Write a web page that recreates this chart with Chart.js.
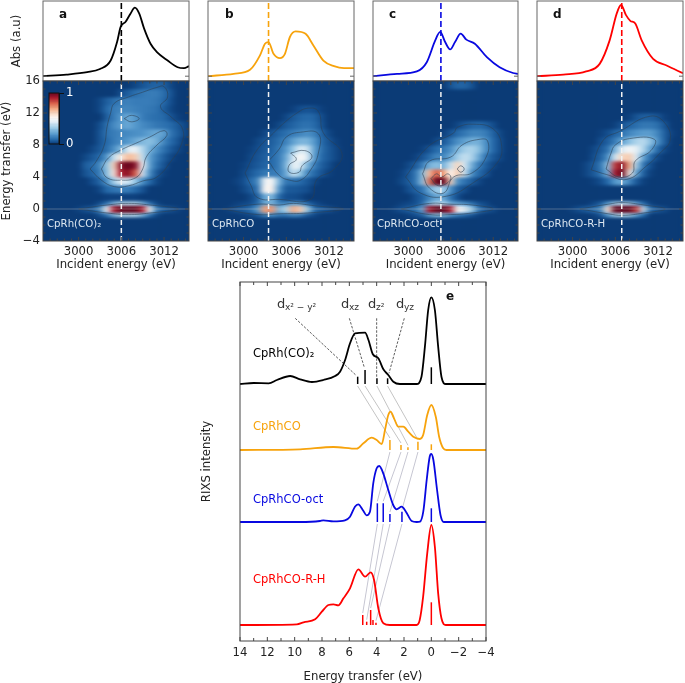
<!DOCTYPE html>
<html>
<head>
<meta charset="utf-8">
<title>RIXS maps</title>
<script src="https://cdn.jsdelivr.net/npm/chart.js@4"></script>
<style>
html, body { margin: 0; padding: 0; background: #fff; }
#page { position: relative; width: 685px; height: 683px; overflow: hidden; }
#page canvas { position: absolute; left: 0; top: 0; }
.heat { position: absolute; overflow: hidden; background: #0b3b76; }
.heat canvas { filter: url(#soft); }
</style>
</head>
<body>
<svg width="0" height="0" style="position:absolute"><filter id="soft" color-interpolation-filters="sRGB"><feGaussianBlur stdDeviation="3 1.7"/></filter></svg>
<div id="page"></div>
<script>
// ---------- data ----------
const panelNames = ['a', 'b', 'c', 'd'];
const sampleNames = ['CpRh(CO)₂', 'CpRhCO', 'CpRhCO-oct', 'CpRhCO-R-H'];
const sampleColors = ['#000000', '#f7a30c', '#0808e0', '#ff0000'];
const cutEnergies = [3006, 3003.5, 3004.6, 3006.9];

const absEnergyA = [2995, 2998.3, 3001.2, 3003, 3004.5, 3005.4, 3005.9, 3006.6, 3007.3, 3007.9, 3008.5, 3009.2, 3010.1, 3011, 3012.5, 3013.9, 3014.8, 3015.5];
const absValueA = [.06, .08, .11, .15, .256, .487, .676, .74, .845, .916, .845, .655, .466, .361, .256, .172, .16, .185];
const absEnergyB = [2995, 2998.6, 3000.9, 3002.3, 3003, 3003.5, 3004.2, 3005.1, 3005.8, 3006.5, 3007.3, 3008.7, 3009.8, 3011.2, 3012.7, 3014.1, 3015.5];
const absValueB = [.06, .09, .14, .32, .466, .487, .34, .286, .34, .55, .62, .59, .445, .256, .185, .16, .16];
const absEnergyC = [2995, 2998.4, 3001.2, 3002.6, 3003.8, 3004.5, 3005.2, 3005.9, 3006.6, 3007.4, 3008.2, 3009.4, 3011.1, 3012.9, 3014.8, 3015.5];
const absValueC = [.06, .09, .12, .235, .508, .613, .487, .395, .487, .592, .517, .466, .298, .172, .10, .088];
const absEnergyD = [2995, 2998.7, 3001.9, 3003.8, 3005.2, 3006.2, 3006.8, 3007.5, 3008.1, 3008.8, 3009.7, 3011.3, 3013.2, 3015.5];
const absValueD = [.06, .08, .12, .214, .508, .845, .95, .823, .752, .718, .508, .277, .193, .097];

// map cells: columns are 2995..3015 eV, rows run top to bottom between these edges
const columnEnergies = [2995, 2996, 2997, 2998, 2999, 3000, 3001, 3002, 3003, 3004, 3005, 3006, 3007, 3008, 3009, 3010, 3011, 3012, 3013, 3014, 3015];
const rowEdges = [16, 15, 14, 13, 12, 11, 10, 9, 8, 7, 6, 5, 4, 3, 2, 1, .45, -.45, -1, -2, -3, -4];

const mapA = [
  [0,0,0,0,0,0,0,0,0,0,0,0,0,2,4,6,7,6,2,0,0],
  [0,0,0,0,0,0,0,0,0,0,0,3,6,9,11,12,12,9,4,0,0],
  [0,0,0,0,0,0,0,0,2,6,9,12,13,12,12,12,11,8,3,0,0],
  [0,0,0,0,0,0,0,0,2,8,12,14,14,13,12,11,10,6,2,0,0],
  [0,0,0,0,0,0,0,0,0,6,12,18,22,18,12,10,9,8,4,1,0],
  [0,0,0,0,0,0,0,0,3,9,15,19,22,18,15,13,11,10,8,5,2],
  [0,0,0,0,0,0,0,0,4,10,12,14,15,16,17,20,22,20,10,6,2],
  [0,0,0,0,0,0,0,0,4,8,12,15,18,22,26,28,24,14,8,4,0],
  [0,0,0,0,0,0,0,2,5,9,16,26,42,46,35,24,16,10,5,2,0],
  [0,0,0,0,0,0,2,5,8,18,38,55,65,62,38,20,12,6,2,0,0],
  [0,0,0,0,0,0,6,8,14,30,60,95,100,95,50,20,9,4,0,0,0],
  [0,0,0,0,0,0,4,7,12,28,55,90,95,80,40,16,5,1,0,0,0],
  [0,0,0,0,0,0,0,3,7,16,32,42,40,30,16,8,2,0,0,0,0],
  [0,0,0,0,0,0,0,0,2,8,10,12,12,8,4,0,0,0,0,0,0],
  [0,0,0,0,0,0,0,0,0,1,1,1,1,1,0,0,0,0,0,0,0],
  [0,0,0,0,0,0,0,0,3,10,25,35,35,35,25,10,2,0,0,0,0],
  [0,0,0,0,0,1,3,5,14,45,90,100,100,100,90,45,12,5,3,1,0],
  [0,0,0,0,0,0,0,0,3,10,25,35,35,35,25,10,2,0,0,0,0],
  [0,0,0,0,0,0,0,0,0,0,0,0,0,0,0,0,0,0,0,0,0],
  [0,0,0,0,0,0,0,0,0,0,0,0,0,0,0,0,0,0,0,0,0],
  [0,0,0,0,0,0,0,0,0,0,0,0,0,0,0,0,0,0,0,0,0]
];
const mapB = [
  [0,0,0,0,0,0,0,0,0,0,0,0,0,0,0,0,0,0,0,0,0],
  [0,0,0,0,0,0,0,0,0,0,0,0,0,0,0,0,0,0,0,0,0],
  [0,0,0,0,0,0,0,0,0,0,0,0,0,0,0,0,0,0,0,0,0],
  [0,0,0,0,0,0,0,0,0,0,0,0,1,3,4,3,1,0,0,0,0],
  [0,0,0,0,0,0,0,0,0,0,0,2,5,7,8,7,3,0,0,0,0],
  [0,0,0,0,0,0,0,0,0,0,2,5,7,9,10,8,4,0,0,0,0],
  [0,0,0,0,0,0,0,0,2,4,7,9,12,14,16,13,7,2,0,0,0],
  [0,0,0,0,0,0,0,2,4,6,9,13,20,25,25,18,8,4,1,0,0],
  [0,0,0,0,0,0,1,3,5,7,11,18,30,42,38,20,9,5,2,0,0],
  [0,0,0,0,0,0,2,4,6,8,12,22,40,50,42,18,8,5,2,0,0],
  [0,0,0,0,0,1,3,5,7,8,12,25,45,42,25,12,6,3,0,0,0],
  [0,0,0,0,0,2,5,8,11,12,12,22,38,30,14,8,4,1,0,0,0],
  [0,0,0,0,1,3,8,14,46,50,25,10,10,8,5,2,0,0,0,0,0],
  [0,0,0,0,0,2,5,10,50,52,18,5,5,4,3,0,0,0,0,0,0],
  [0,0,0,0,0,0,2,6,22,26,8,3,3,2,0,0,0,0,0,0,0],
  [0,0,0,0,1,2,3,8,22,24,14,14,20,18,8,3,1,0,0,0,0],
  [0,0,0,1,3,5,8,18,70,72,24,34,68,62,30,8,5,3,1,0,0],
  [0,0,0,0,0,1,2,5,14,16,10,10,14,12,5,2,0,0,0,0,0],
  [0,0,0,0,0,0,0,0,0,0,0,0,0,0,0,0,0,0,0,0,0],
  [0,0,0,0,0,0,0,0,0,0,0,0,0,0,0,0,0,0,0,0,0],
  [0,0,0,0,0,0,0,0,0,0,0,0,0,0,0,0,0,0,0,0,0]
];
const mapC = [
  [0,0,0,0,0,0,0,0,0,0,0,4,7,7,4,0,0,0,0,0,0],
  [0,0,0,0,0,0,0,0,0,0,0,0,0,0,0,0,0,0,0,0,0],
  [0,0,0,0,0,0,0,0,0,0,0,0,0,0,0,0,0,0,0,0,0],
  [0,0,0,0,0,0,0,0,0,0,0,0,0,0,0,0,0,0,0,0,0],
  [0,0,0,0,0,0,0,0,0,0,0,0,0,0,0,0,0,0,0,0,0],
  [0,0,0,0,0,0,0,0,0,0,0,0,2,5,7,8,6,3,0,0,0],
  [0,0,0,0,0,0,0,0,0,0,1,4,8,11,14,14,12,7,2,0,0],
  [0,0,0,0,0,0,0,0,0,2,5,10,16,20,24,24,16,8,3,0,0],
  [0,0,0,0,0,0,0,1,4,8,11,16,25,32,34,28,16,8,3,0,0],
  [0,0,0,0,0,0,1,4,8,14,14,22,32,38,34,22,10,5,2,0,0],
  [0,0,0,0,0,2,5,12,24,28,24,38,60,40,24,12,6,2,0,0,0],
  [0,0,0,0,1,4,10,26,65,80,70,50,62,38,16,8,4,0,0,0,0],
  [0,0,0,0,2,5,10,28,75,100,100,60,16,10,6,2,0,0,0,0,0],
  [0,0,0,0,0,3,6,10,22,32,32,16,6,3,0,0,0,0,0,0,0],
  [0,0,0,0,0,0,3,6,14,22,22,10,3,0,0,0,0,0,0,0,0],
  [0,0,0,0,1,2,3,8,25,35,35,24,20,16,10,4,2,0,0,0,0],
  [0,0,0,1,3,5,8,20,90,100,100,90,50,42,30,10,4,2,0,0,0],
  [0,0,0,0,0,1,3,6,20,28,28,18,12,8,4,1,0,0,0,0,0],
  [0,0,0,0,0,0,0,0,0,0,0,0,0,0,0,0,0,0,0,0,0],
  [0,0,0,0,0,0,0,0,0,0,0,0,0,0,0,0,0,0,0,0,0],
  [0,0,0,0,0,0,0,0,0,0,0,0,0,0,0,0,0,0,0,0,0]
];
const mapD = [
  [0,0,0,0,0,0,0,0,0,0,0,0,0,0,0,0,0,0,0,0,0],
  [0,0,0,0,0,0,0,0,0,0,0,0,0,0,0,0,0,0,0,0,0],
  [0,0,0,0,0,0,0,0,0,0,0,0,0,0,0,0,0,0,0,0,0],
  [0,0,0,0,0,0,0,0,0,0,0,0,0,0,0,0,0,0,0,0,0],
  [0,0,0,0,0,0,0,0,0,0,0,0,0,1,4,6,6,4,1,0,0],
  [0,0,0,0,0,0,0,0,0,0,0,1,4,7,9,11,11,9,4,0,0],
  [0,0,0,0,0,0,0,0,0,1,3,7,10,14,17,19,19,14,6,1,0],
  [0,0,0,0,0,0,0,0,0,3,6,12,20,28,34,36,28,16,6,0,0],
  [0,0,0,0,0,0,0,0,2,5,10,25,42,48,44,34,20,8,2,0,0],
  [0,0,0,0,0,0,0,0,3,7,16,40,60,62,42,20,8,2,0,0,0],
  [0,0,0,0,0,0,0,2,5,11,28,85,95,68,32,10,3,0,0,0,0],
  [0,0,0,0,0,0,0,2,5,10,24,90,100,55,20,6,1,0,0,0,0],
  [0,0,0,0,0,0,0,0,1,3,8,18,22,14,5,1,0,0,0,0,0],
  [0,0,0,0,0,0,0,0,0,0,0,0,0,0,0,0,0,0,0,0,0],
  [0,0,0,0,0,0,0,0,0,0,0,0,0,0,0,0,0,0,0,0,0],
  [0,0,0,0,0,0,0,0,2,6,18,32,35,32,20,8,1,0,0,0,0],
  [0,0,0,0,0,1,3,5,8,14,55,100,100,100,85,35,8,4,2,0,0],
  [0,0,0,0,0,0,0,0,1,4,18,32,35,32,20,8,0,0,0,0,0],
  [0,0,0,0,0,0,0,0,0,0,0,0,0,0,0,0,0,0,0,0,0],
  [0,0,0,0,0,0,0,0,0,0,0,0,0,0,0,0,0,0,0,0,0],
  [0,0,0,0,0,0,0,0,0,0,0,0,0,0,0,0,0,0,0,0,0]
];

// contour lines as [energy, transfer] pairs
const contoursA = [
  [[3001.6,5],[3002.5,6],[3003.6,8],[3004,10.3],[3004.5,12],[3005,13.2],[3007,14],[3009,14.6],[3011,15.2],[3012,15.3],[3012.5,14],[3011.5,12.8],[3013,11.5],[3014.6,10],[3014.4,8],[3013,6],[3011,4],[3009,3.5],[3007,2.9],[3005,2.8],[3003.2,3.6],[3001.6,5]],
  [[3003.2,5],[3004.2,6.4],[3006,7.4],[3008,8.2],[3010,9],[3012,9.8],[3012.4,9.2],[3011,8],[3009.5,6.5],[3009,5],[3008,3.9],[3006,3.6],[3004,3.9],[3003.2,5]],
  [[3006.4,11.3],[3007.4,11.7],[3008.5,11.3],[3007.4,10.9],[3006.4,11.3]],
  [[3000,0],[3004,.5],[3007,.7],[3010,.5],[3014,0],[3010,-.5],[3007,-.7],[3004,-.5],[3000,0]]
];
const contoursB = [
  [[3000.2,4.5],[3001.9,7.4],[3004.2,9.5],[3005.6,10.7],[3007.5,12],[3009,12.6],[3010.5,12.2],[3011.2,9.5],[3013.8,7],[3012.6,4.9],[3010.3,3.7],[3009.4,1.2],[3005,1.2],[3002,1.4],[3001,3],[3000.2,4.5]],
  [[3003.5,6],[3005,7.5],[3006,9],[3008,9.6],[3010.5,9.4],[3010.5,7],[3009.5,5],[3008,3.6],[3006.5,3.6],[3005,4.2],[3003.5,6]],
  [[3006.6,7],[3008.6,7.3],[3009.6,6.5],[3008.2,5.4],[3007.8,4.6],[3006.4,4.6],[3006.4,5.5],[3007.4,6.2],[3006.6,7]],
  [[2997,0],[3002,.6],[3005,.5],[3007,.7],[3010,.4],[3014,0],[3009,-.5],[3005,-.6],[3002,-.7],[2997,0]]
];
const contoursC = [
  [[2999.6,4],[3002.8,7.8],[3006.4,9.5],[3006.9,10.2],[3009.2,10.6],[3012,10],[3013.2,7.8],[3012.5,5.7],[3009.2,3.3],[3005.4,1.6],[3001.7,2],[2999.6,4]],
  [[3002,4.4],[3003,6],[3006,6.5],[3007.6,8],[3010,8.7],[3011.2,8.5],[3011,6.5],[3009,4.5],[3006.4,4],[3005,2],[3003,2.6],[3002,4.4]],
  [[3006.9,5],[3007.4,5.4],[3007.9,5],[3007.4,4.6],[3006.9,5]],
  [[3003.2,3.8],[3004,4.4],[3004.7,4],[3005.6,4.4],[3006,3.8],[3005,3],[3004,3],[3003.2,3.8]],
  [[2999,0],[3003,.7],[3006,.6],[3009,.5],[3012,0],[3009,-.5],[3006,-.7],[3003,-.7],[2999,0]]
];
const contoursD = [
  [[3002.6,4.9],[3004.3,8.6],[3006.6,9.7],[3010.9,11.6],[3013,10.7],[3013.7,8.6],[3012.3,7],[3010.4,5.4],[3007.6,3.7],[3004.8,4.3],[3002.6,4.9]],
  [[3004.7,5],[3005.4,7],[3006,8],[3008,8.8],[3011.5,8.7],[3011,7.3],[3008.8,6],[3008.4,4.5],[3006.5,4],[3004.7,5]],
  [[3001,0],[3005,.6],[3007,.8],[3010,.5],[3013,0],[3010,-.5],[3007,-.8],[3005,-.6],[3001,0]]
];

// lower panel spectra, height in plot pixels above each baseline
const rixsEnergyBlack = [14,13,11.9,11.3,10.33,9.6,8.74,7.9,7.04,6.68,6.31,5.95,5.58,4.85,4.6,4.29,3.88,3.51,3.15,2.78,2.3,1.08,.72,.47,.23,0,-.26,-.5,-.74,-1.06,-4];
const rixsValueBlack = [0,1,.7,4,8,4.7,2,4,8,12.3,24,40.7,50.7,51.3,44,30,25.7,14.7,9,2.3,0,0,7.3,37.3,74,86.7,74,37.3,7.3,0,0];
const rixsEnergyOrange = [14,9.6,7.16,5.46,4.97,4.36,4,3.63,3.39,3.15,2.98,2.73,2.42,2.05,1.69,1.32,.84,.6,.3,0,-.33,-.57,-.87,-1.1,-4];
const rixsValueOrange = [0,.7,3,1.3,6.7,12.3,10,6,20,35,38.3,31.7,23.3,23.3,18.3,13.3,11,15,35,45,33,13.3,1.7,0,0];
const rixsEnergyBlue = [14,9.61,8.15,7.9,7.17,6.32,5.95,5.59,5.35,4.98,4.74,4.49,4.25,4,3.81,3.52,3.15,2.79,2.54,2.17,1.86,1.44,1.07,.83,.59,.34,.12,0,-.15,-.42,-.67,-.91,-4];
const rixsValueBlue = [0,0,1,1.7,.7,1.7,5.3,15.3,17.7,11.3,6.7,10.3,38.7,53.7,56,48.7,32,17,12.7,15.3,10.3,1,0,.3,10.3,42,65.3,68,62,32,7,0,0];
const rixsEnergyRed = [14,9.84,9.35,8.5,8.01,7.53,7.16,6.8,6.43,5.95,5.34,4.85,4.44,4.19,3.88,3.51,3.03,1.08,.85,.6,.3,0,-.26,-.5,-.74,-1.06,-4];
const rixsValueRed = [0,.7,2.7,5.7,13.3,20,20.7,19.7,26.7,36.7,55.7,48.3,52.7,45,16.7,1.7,0,0,5,28.3,71.7,100,78,31.7,6.7,0,0];
const baselines = [257, 191, 119, 16];

const stickEnergies = [
  [5.39, 4.85, 3.98, 3.2, 0],
  [3.03, 2.22, 1.71, .98, 0],
  [3.95, 3.52, 3.03, 2.15, 0],
  [5.02, 4.73, 4.44, 4.27, 4.05, 0]
];
const stickHeights = [
  [7.3, 14, 5.7, 5.7, 16.7],
  [10, 5, 2.7, 8.3, 5.7],
  [18.7, 18.7, 8, 10.3, 13.7],
  [10, 3.3, 15, 5, 2.3, 22.7]
];
// which red stick each blue connector ends on
const redLinkSticks = [0, 1, 2, 4];
const leaderLines = [
  [[9.96, 322.7], [5.53, 266]],
  [[6, 322.7], [4.92, 274.3]],
  [[4, 322.7], [4, 264.3]],
  [[1.98, 322.7], [3.1, 267.7]]
];

const mapTicksX = [3000, 3006, 3012];
const mapTicksY = [-4, 0, 4, 8, 12, 16];
const rixsTicksX = [14, 12, 10, 8, 6, 4, 2, 0, -2, -4];

// ---------- layout ----------
const FONT = 'DejaVu Sans';
const TXT = '#222';
const panelLeft = [43, 208, 373, 537];
const panelRight = [189, 354, 518, 683];
const topRect = { y0: 1, y1: 81 };
const mapRect = { y0: 81, y1: 241 };
const rixsRect = { x0: 240, x1: 486, y0: 282, y1: 641 };
const WIDTH = 685, HEIGHT = 683;

const page = document.getElementById('page');

function newCanvas(parent, w, h) {
  const c = document.createElement('canvas');
  c.width = w; c.height = h;
  c.style.width = w + 'px'; c.style.height = h + 'px';
  parent.appendChild(c);
  return c.getContext('2d');
}

const colorStops = [
  [0, [11, 59, 118]], [.03, [20, 78, 142]], [.08, [38, 106, 170]], [.18, [84, 152, 204]], [.3, [150, 200, 230]],
  [.42, [222, 236, 245]], [.5, [250, 248, 246]], [.6, [248, 214, 190]], [.7, [240, 160, 120]],
  [.8, [214, 90, 70]], [.9, [170, 26, 44]], [1, [100, 6, 30]]
];
function heatColor(v) {
  for (let i = 1; i < colorStops.length; i++) {
    if (v <= colorStops[i][0]) {
      const a = colorStops[i - 1], b = colorStops[i];
      const f = (v - a[0]) / (b[0] - a[0]);
      const c = a[1].map((n, k) => Math.round(n + (b[1][k] - n) * f));
      return `rgb(${c[0]},${c[1]},${c[2]})`;
    }
  }
  return 'rgb(100,6,30)';
}

// inward ticks and the box round each plot
const framePlugin = {
  id: 'frame',
  afterDraw(chart, args, o) {
    if (!o.color) return;
    const { ctx, chartArea: a, scales } = chart;
    ctx.save();
    ctx.strokeStyle = o.color;
    ctx.lineWidth = o.width || 1;
    const mark = (x1, y1, x2, y2) => { ctx.beginPath(); ctx.moveTo(x1, y1); ctx.lineTo(x2, y2); ctx.stroke(); };
    (o.x || []).forEach(t => {
      const p = scales.x.getPixelForValue(t[0]);
      mark(p, a.bottom, p, a.bottom - t[1]);
      mark(p, a.top, p, a.top + t[1]);
    });
    (o.y || []).forEach(t => {
      const p = scales.y.getPixelForValue(t[0]);
      mark(a.left, p, a.left + t[1], p);
      mark(a.right, p, a.right - t[1], p);
    });
    ctx.strokeRect(a.left, a.top, a.right - a.left, a.bottom - a.top);
    ctx.restore();
  }
};

const notesPlugin = {
  id: 'notes',
  afterDraw(chart, args, o) {
    const ctx = chart.ctx;
    (o.items || []).forEach(n => {
      ctx.save();
      ctx.font = n.font;
      ctx.fillStyle = n.color;
      ctx.textBaseline = 'middle';
      ctx.fillText(n.text, n.x, n.y);
      ctx.restore();
    });
  }
};
Chart.register(framePlugin, notesPlugin);

function xy(xs, ys) { return xs.map((x, i) => ({ x: x, y: ys[i] })); }
function pairs(list) { return list.map(p => ({ x: p[0], y: p[1] })); }

function lineSet(data, color, width, extra) {
  return Object.assign({ data: data, showLine: true, borderColor: color, borderWidth: width, pointRadius: 0, fill: false }, extra || {});
}

function setTicks(values) {
  return function (scale) { scale.ticks = values.map(v => ({ value: v })); };
}

function fixedWidth(w) { return function (scale) { scale.width = w; }; }
function fixedHeight(h) { return function (scale) { scale.height = h; }; }

const tickFont = { family: FONT, size: 11.7 };
const titleFont = { family: FONT, size: 11.7 };

function baseOptions(padding, scales, frame, notes) {
  return {
    responsive: false,
    animation: false,
    events: [],
    layout: { padding: padding },
    scales: scales,
    plugins: { legend: { display: false }, tooltip: { enabled: false }, frame: frame || {}, notes: { items: notes || [] } }
  };
}

// ---------- absorption panels ----------
const absEnergy = [absEnergyA, absEnergyB, absEnergyC, absEnergyD];
const absValue = [absValueA, absValueB, absValueC, absValueD];
const maps = [mapA, mapB, mapC, mapD];
const contours = [contoursA, contoursB, contoursC, contoursD];

panelNames.forEach((name, i) => {
  const L = panelLeft[i], R = panelRight[i];
  const hasY = i === 0;
  const yTop = {
    min: 0, max: 1,
    display: hasY,
    grid: { display: false, drawTicks: false }, border: { display: false },
    ticks: { display: false },
    title: { display: hasY, text: 'Abs (a.u)', font: titleFont, color: TXT, padding: 0 }
  };
  if (hasY) yTop.afterFit = fixedWidth(33);
  const topData = [
    lineSet(xy(absEnergy[i], absValue[i]), sampleColors[i], 1.8, { cubicInterpolationMode: 'monotone' }),
    lineSet(pairs([[cutEnergies[i], 0], [cutEnergies[i], 1]]), sampleColors[i], 1.6, { borderDash: [6, 3] })
  ];
  const labelX = [59, 225, 389, 553][i];
  new Chart(newCanvas(page, WIDTH, HEIGHT), {
    type: 'scatter',
    data: { datasets: topData },
    options: baseOptions(
      { left: hasY ? 10 : L, right: WIDTH - R, top: topRect.y0, bottom: HEIGHT - topRect.y1 },
      { x: { type: 'linear', min: 2995, max: 3015.5, display: false }, y: yTop },
      { color: '#666', y: [[.06, 4]] },
      [{ text: name, x: labelX, y: 15, font: `bold 12px "${FONT}"`, color: '#111' }]
    )
  });

  // map cells go on their own blurred canvas, clipped to the plot box
  const box = document.createElement('div');
  box.className = 'heat';
  box.style.left = L + 'px';
  box.style.top = mapRect.y0 + 'px';
  box.style.width = (R - L) + 'px';
  box.style.height = (mapRect.y1 - mapRect.y0) + 'px';
  page.appendChild(box);
  const cellSets = maps[i].map((row, r) => ({
    data: row.map((v, c) => ({ x: columnEnergies[c], y: [rowEdges[r + 1], rowEdges[r]] })),
    backgroundColor: row.map(v => heatColor(v / 100)),
    borderWidth: 0,
    barPercentage: 1,
    categoryPercentage: 1,
    grouped: false
  }));
  // offset must be off here, on a linear axis it doubles the value range
  new Chart(newCanvas(box, R - L, mapRect.y1 - mapRect.y0), {
    type: 'bar',
    data: { datasets: cellSets },
    options: baseOptions(0, {
      x: { type: 'linear', min: 2995, max: 3015.5, offset: false, display: false },
      y: { min: -4, max: 16, display: false }
    })
  });

  // axes, contours and cut lines above the map
  const overlay = [];
  overlay.push(lineSet(pairs([[cutEnergies[i], -4], [cutEnergies[i], 16]]), '#f2f2f2', 1.5, { borderDash: [5, 3] }));
  overlay.push(lineSet(pairs([[2995, 0], [3015.5, 0]]), 'rgba(190,190,190,.55)', .7));
  contours[i].forEach(c => overlay.push(lineSet(pairs(c), 'rgba(45,62,80,.7)', .8, { tension: .45 })));
  const xMarks = [], yMarks = [];
  for (let e = 2996; e <= 3015; e++) xMarks.push([e, (e - 3000) % 6 === 0 ? 4 : 2.5]);
  for (let t = -3; t <= 15; t++) yMarks.push([t, t % 4 === 0 ? 4 : 2.5]);
  const yMap = {
    min: -4, max: 16,
    display: hasY,
    grid: { display: false, drawTicks: false }, border: { display: false },
    afterBuildTicks: setTicks(mapTicksY),
    ticks: { font: tickFont, color: TXT, padding: 3, callback: v => String(v).replace('-', '−') },
    title: { display: true, text: 'Energy transfer (eV)', font: titleFont, color: TXT, padding: 0 }
  };
  if (hasY) yMap.afterFit = fixedWidth(43);
  new Chart(newCanvas(page, WIDTH, HEIGHT), {
    type: 'scatter',
    data: { datasets: overlay },
    options: baseOptions(
      { left: hasY ? 0 : L, right: WIDTH - R, top: mapRect.y0, bottom: HEIGHT - mapRect.y1 - 31 },
      {
        x: {
          type: 'linear', min: 2995, max: 3015.5,
          grid: { display: false, drawTicks: false }, border: { display: false },
          afterBuildTicks: setTicks(mapTicksX),
          afterFit: fixedHeight(31),
          ticks: { font: tickFont, color: TXT, padding: 4, maxRotation: 0, autoSkip: false, callback: v => String(v) },
          title: { display: true, text: 'Incident energy (eV)', font: titleFont, color: TXT, padding: 0 }
        },
        y: yMap
      },
      { color: '#444', x: xMarks, y: yMarks },
      [{ text: sampleNames[i], x: L + 4, y: 224, font: `10.2px "${FONT}"`, color: '#dbe6f0' }]
    )
  });
});

// ---------- colour key in panel a ----------
const keyLevels = [];
for (let k = 0; k < 60; k++) keyLevels.push(k / 60);
new Chart(newCanvas(page, WIDTH, HEIGHT), {
  type: 'bar',
  data: {
    labels: [''],
    datasets: keyLevels.map(v => ({
      data: [[v, v + 1 / 60]],
      backgroundColor: heatColor(v + .5 / 60),
      borderWidth: 0, barPercentage: 1, categoryPercentage: 1, grouped: false
    }))
  },
  options: baseOptions(
    { left: 49, right: WIDTH - 59 - 20, top: 93, bottom: HEIGHT - 144 },
    {
      x: { display: false },
      y: {
        position: 'right', min: 0, max: 1,
        border: { color: '#111' },
        grid: { drawOnChartArea: false, color: '#111', tickLength: 5 },
        afterBuildTicks: setTicks([0, 1]),
        afterFit: fixedWidth(20),
        ticks: { font: { family: FONT, size: 11.7 }, color: '#fff', padding: 2, callback: v => String(v) }
      }
    },
    { color: '#111' }
  )
});

// ---------- panel e ----------
const rixsEnergy = [rixsEnergyBlack, rixsEnergyOrange, rixsEnergyBlue, rixsEnergyRed];
const rixsValue = [rixsValueBlack, rixsValueOrange, rixsValueBlue, rixsValueRed];
const rixsSets = [];
rixsEnergy.forEach((es, i) => {
  rixsSets.push(lineSet(es.map((e, k) => ({ x: e, y: baselines[i] + rixsValue[i][k] })), sampleColors[i], 1.8, { cubicInterpolationMode: 'monotone' }));
});
stickEnergies.forEach((es, i) => {
  es.forEach((e, k) => {
    rixsSets.push(lineSet(pairs([[e, baselines[i]], [e, baselines[i] + stickHeights[i][k]]]), sampleColors[i], 1.5));
  });
});
// grey connectors between the d levels of neighbouring spectra
for (let s = 0; s < 3; s++) {
  for (let k = 0; k < 4; k++) {
    const to = s === 2 ? redLinkSticks[k] : k;
    rixsSets.push(lineSet(pairs([
      [stickEnergies[s][k], baselines[s] - 2],
      [stickEnergies[s + 1][to], baselines[s + 1] + stickHeights[s + 1][to] + 2]
    ]), s === 0 ? '#c4c4c4' : '#c6c6d2', 1));
  }
}
leaderLines.forEach(l => rixsSets.push(lineSet(pairs(l), '#333', .8, { borderDash: [2.5, 1.5] })));

const rixsMarks = [];
for (let e = -4; e <= 14; e++) rixsMarks.push([e, e % 2 === 0 ? 4 : 3]);
const dFont = `13px "${FONT}"`, subFont = `9px "${FONT}"`;
const rixsNotes = [
  { text: 'e', x: 446, y: 297, font: `bold 12px "${FONT}"`, color: '#111' },
  { text: 'd', x: 277, y: 305, font: dFont, color: '#333' },
  { text: 'x² − y²', x: 285, y: 308, font: subFont, color: '#333' },
  { text: 'd', x: 341, y: 305, font: dFont, color: '#333' },
  { text: 'xz', x: 349, y: 308, font: subFont, color: '#333' },
  { text: 'd', x: 368, y: 305, font: dFont, color: '#333' },
  { text: 'z²', x: 376, y: 308, font: subFont, color: '#333' },
  { text: 'd', x: 396, y: 305, font: dFont, color: '#333' },
  { text: 'yz', x: 404, y: 308, font: subFont, color: '#333' },
  { text: sampleNames[0], x: 253, y: 354, font: `11.5px "${FONT}"`, color: sampleColors[0] },
  { text: sampleNames[1], x: 253, y: 427, font: `11.5px "${FONT}"`, color: sampleColors[1] },
  { text: sampleNames[2], x: 253, y: 500, font: `11.5px "${FONT}"`, color: sampleColors[2] },
  { text: sampleNames[3], x: 253, y: 580, font: `11.5px "${FONT}"`, color: sampleColors[3] }
];

new Chart(newCanvas(page, WIDTH, HEIGHT), {
  type: 'scatter',
  data: { datasets: rixsSets },
  options: baseOptions(
    { left: 200, right: WIDTH - rixsRect.x1, top: rixsRect.y0, bottom: HEIGHT - rixsRect.y1 - 43 },
    {
      x: {
        type: 'linear', min: -4, max: 14, reverse: true,
        grid: { display: false, drawTicks: false }, border: { display: false },
        afterBuildTicks: setTicks(rixsTicksX),
        afterFit: fixedHeight(43),
        ticks: { font: tickFont, color: TXT, padding: 5, maxRotation: 0, autoSkip: false, callback: v => String(v).replace('-', '−') },
        title: { display: true, text: 'Energy transfer (eV)', font: titleFont, color: TXT, padding: 0 }
      },
      y: {
        min: 0, max: 359,
        grid: { display: false, drawTicks: false }, border: { display: false },
        ticks: { display: false },
        afterFit: fixedWidth(40),
        title: { display: true, text: 'RIXS intensity', font: titleFont, color: TXT, padding: 0 }
      }
    },
    { color: '#444', x: rixsMarks },
    rixsNotes
  )
});
</script>
</body>
</html>
